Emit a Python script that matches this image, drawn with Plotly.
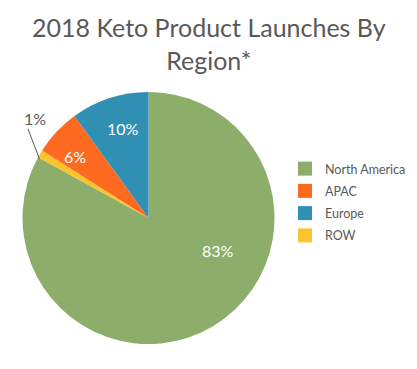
import plotly.graph_objects as go

# Slice order (clockwise from 12 o'clock) as drawn
slice_labels = ["North America", "ROW", "APAC", "Europe"]
slice_values = [83, 1, 6, 10]
slice_colors = ["#8DAD6A", "#FDC32D", "#FD6A20", "#2F90B4"]

# Legend order
legend_labels = ["North America", "APAC", "Europe", "ROW"]
legend_colors = ["#8DAD6A", "#FD6A20", "#2F90B4", "#FDC32D"]

title_text = "2018 Keto Product Launches By<br>Region*"

W, H = 417, 369
cx, cy, r = 148.5, 218, 126

def px(x):
    return x / W

def py(y):
    return 1 - y / H

fig = go.Figure()
fig.add_trace(go.Pie(
    labels=slice_labels,
    values=slice_values,
    sort=False,
    direction="clockwise",
    rotation=0,
    marker=dict(colors=slice_colors, line=dict(width=0)),
    textinfo="none",
    showlegend=False,
    domain=dict(x=[px(cx - r), px(cx + r)], y=[py(cy + r), py(cy - r)]),
    hoverinfo="label+percent",
))

for i, (lab, col) in enumerate(zip(legend_labels, legend_colors)):
    fig.add_trace(go.Scatter(
        x=[None], y=[None], mode="markers", name=lab, legendgroup=f"g{i}",
        marker=dict(symbol="square", size=14, color=col),
        showlegend=True,
    ))

# Data label placement (pixel positions of label centres)
label_pos = {
    "North America": (218, 250, "white"),
    "ROW": (34.5, 119, "#595959"),
    "APAC": (74.5, 156, "white"),
    "Europe": (122.5, 128.5, "white"),
}
total = sum(slice_values)
annotations = []
for lab, v in zip(slice_labels, slice_values):
    x, y, c = label_pos[lab]
    annotations.append(dict(
        x=px(x), y=py(y), xref="paper", yref="paper",
        text=f"{round(100 * v / total)}%", showarrow=False,
        xanchor="center", yanchor="middle",
        font=dict(family="Lato", size=16, color=c),
    ))

annotations.append(dict(
    x=0.5, y=py(44), xref="paper", yref="paper", text=title_text,
    showarrow=False, xanchor="center", yanchor="middle",
    font=dict(family="Lato", size=25, color="#595959"),
))

fig.update_layout(
    width=W, height=H,
    margin=dict(l=0, r=0, t=0, b=0),
    paper_bgcolor="white", plot_bgcolor="white",
    annotations=annotations,
    shapes=[dict(type="line", xref="paper", yref="paper",
                 x0=px(28), y0=py(129), x1=px(39.5), y1=py(159),
                 line=dict(color="#595959", width=1))],
    xaxis=dict(visible=False), yaxis=dict(visible=False),
    legend=dict(x=px(285), y=py(154), xanchor="left", yanchor="top",
                font=dict(family="Lato", size=12.5, color="#595959"),
                itemwidth=30, tracegroupgap=3, bgcolor="rgba(0,0,0,0)"),
    font=dict(family="Lato"),
)

fig.write_html("out.html", config={"displayModeBar": False},
               post_script="document.body.style.margin='0';")
